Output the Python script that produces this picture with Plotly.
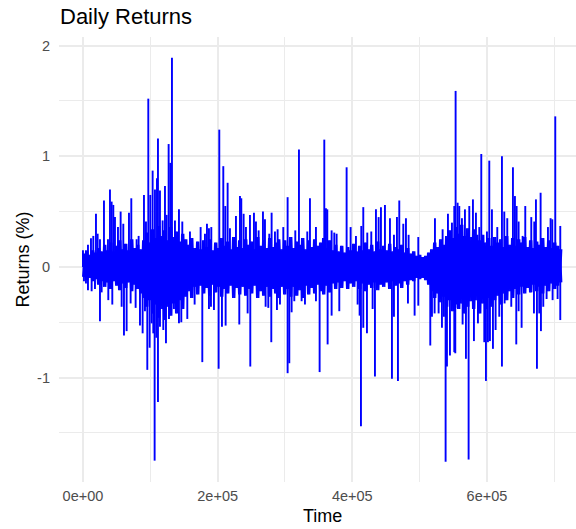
import plotly.graph_objects as go

TIME_STEP = 495  # one index unit of the lists below, in Time units

tick_x = [0, 200000, 400000, 600000]
tick_x_text = ["0e+00", "2e+05", "4e+05", "6e+05"]
tick_y = [-1, 0, 1, 2]
tick_y_text = ["-1", "0", "1", "2"]

upper_idx = [0,9,15,24,31,39,44,51,63,75,
 81,86,91,96,105,113,121,138,145,161,
 167,183,189,196,202,209,216,222,225,231,
 239,246,251,257,262,267,276,288,298,321,
 353,366,372,378,385,409,421,427,434,441,
 459,471,475,482,489,501,513,519,527,540,
 546,559,566,576,584,601,614,637,648,673,
 681,699,724,729,733,746,754,761,791,803,
 819,835,841,853,865,879,887,894,906,921,
 933,942,949,961,969,977,1006,1056,1079,1095,
 1107,1114,1118,1124,1129,1137,1146,1159,1170,1179,
 1189,1195,1212,1219,1227,1243,1257,1264,1273,1290,
 1296,1301,1307,1319,1327,1345,1354,1359,1373,1395,
 1403,1408,1417,1432]
upper_ret = [.15,.15,.2,.26,.28,.48,.30,.25,.6,.25,
 .7,.59,.56,.45,.36,.5,.39,.49,.62,.25,
 .28,.65,.41,1.52,.65,.87,.7,.8,1.16,.69,
 .42,.73,.47,1.11,.94,1.89,.42,.52,.41,.32,
 .36,.3,.39,.35,.36,1.24,.91,.55,.76,.35,
 .46,.64,.62,.48,.36,.47,.49,.41,.33,.5,
 .43,.3,.49,.32,.34,.36,.63,.33,1.06,.32,
 .62,.36,1.15,.53,.52,.33,.31,.3,.9,.36,
 .28,.37,.54,.31,.32,.52,.45,.54,.56,.44,
 .29,.45,.6,.39,.44,.29,.27,.44,.34,.48,
 .4,.55,1.59,.58,.55,.44,.52,.55,.61,.49,
 .36,1.02,.32,.96,.52,.36,1.0,.5,.44,.9,
 .64,.55,.41,.28,.55,.45,.41,.61,.67,.36,
 .44,.43,1.36,.37]

lower_idx = [3,9,15,26,36,51,56,76,88,116,
 123,131,143,158,171,179,186,193,200,206,
 211,215,220,225,231,241,249,258,273,288,
 295,313,335,358,378,384,393,407,417,428,
 469,494,502,548,556,565,582,591,614,619,
 626,634,656,666,699,710,734,746,769,824,
 830,834,841,852,869,876,927,933,945,975,
 995,1006,1042,1047,1055,1067,1077,1083,1088,1092,
 1101,1114,1117,1124,1139,1149,1157,1173,1185,1204,
 1209,1215,1221,1230,1238,1249,1257,1265,1285,1300,
 1307,1316,1353,1362,1369,1374,1381,1391,1409,1424,
 1432]
lower_ret = [-.13,-.15,-.21,-.22,-.2,-.49,-.23,-.3,-.34,-.36,
 -.62,-.58,-.33,-.37,-.53,-.6,-.4,-.93,-.73,-.51,
 -.6,-1.75,-.64,-1.22,-.54,-.57,-.69,-.47,-.38,-.51,
 -.5,-.47,-.34,-.86,-.38,-.36,-.39,-.92,-.54,-.53,
 -.52,-.42,-.9,-.36,-.37,-.68,-.39,-.34,-.96,-.87,
 -.41,-.31,-.31,-.34,-.31,-.95,-.7,-.44,-.4,-.34,
 -.44,-1.44,-.55,-.6,-.38,-.99,-1.01,-.45,-1.03,-.33,
 -.44,-.35,-.71,-.45,-.42,-.42,-.55,-.45,-1.76,-.9,
 -.8,-.77,-.78,-.37,-.52,-.83,-1.74,-.67,-.51,-.68,
 -1.03,-.68,-.67,-.74,-.57,-.45,-.9,-.33,-.36,-.7,
 -.4,-.55,-.42,-.92,-.42,-.58,-.36,-.29,-.3,-.29,
 -.48]

# dense body of the series: one high/low pair for each block of 9 index units
body_high = [.12,.14,.11,.15,.13,.17,.14,.2,.15,.22,
 .14,.19,.24,.16,.21,.15,.25,.17,.2,.16,
 .24,.31,.22,.34,.26,.37,.28,.33,.24,.36,
 .27,.32,.23,.3,.25,.2,.26,.17,.23,.16,
 .24,.18,.25,.15,.22,.17,.26,.19,.23,.16,
 .27,.18,.24,.17,.25,.2,.23,.16,.27,.19,
 .24,.17,.26,.18,.22,.25,.16,.24,.19,.27,
 .17,.23,.2,.26,.16,.24,.18,.25,.19,.22,
 .26,.17,.24,.15,.2,.14,.19,.13,.18,.15,
 .21,.14,.19,.15,.22,.16,.2,.14,.23,.16,
 .19,.15,.21,.14,.18,.16,.2,.13,.17,.12,
 .14,.1,.11,.09,.1,.13,.16,.22,.18,.25,
 .2,.28,.33,.26,.36,.3,.38,.28,.35,.27,
 .34,.29,.24,.29,.22,.26,.19,.27,.22,.25,
 .18,.28,.2,.26,.19,.25,.22,.27,.18,.24,
 .17,.23,.2,.26,.18,.24,.17,.22,.19,.16]
body_low = [-.09,-.12,-.1,-.13,-.11,-.16,-.13,-.18,-.14,-.2,
 -.13,-.17,-.21,-.15,-.19,-.14,-.22,-.16,-.2,-.24,
 -.28,-.36,-.3,-.42,-.34,-.46,-.38,-.48,-.36,-.44,
 -.33,-.42,-.3,-.38,-.27,-.22,-.28,-.18,-.25,-.17,
 -.24,-.19,-.26,-.16,-.23,-.18,-.27,-.2,-.24,-.17,
 -.28,-.19,-.25,-.18,-.26,-.2,-.24,-.17,-.28,-.22,
 -.26,-.18,-.27,-.2,-.24,-.28,-.18,-.25,-.2,-.27,
 -.18,-.26,-.21,-.28,-.17,-.25,-.19,-.24,-.16,-.22,
 -.25,-.17,-.23,-.15,-.2,-.14,-.19,-.13,-.2,-.15,
 -.18,-.13,-.2,-.15,-.22,-.16,-.19,-.14,-.21,-.16,
 -.18,-.14,-.2,-.13,-.17,-.15,-.19,-.13,-.16,-.12,
 -.13,-.1,-.11,-.1,-.12,-.16,-.22,-.28,-.24,-.32,
 -.27,-.36,-.3,-.4,-.34,-.38,-.33,-.42,-.36,-.31,
 -.38,-.3,-.42,-.33,-.38,-.28,-.36,-.3,-.26,-.34,
 -.24,-.3,-.22,-.28,-.2,-.25,-.18,-.24,-.19,-.23,
 -.16,-.22,-.18,-.24,-.17,-.22,-.15,-.2,-.17,-.14]

assert len(upper_idx) == len(upper_ret)
assert len(lower_idx) == len(lower_ret)
assert len(body_high) == len(body_low)
BODY_BLOCK = 9

body_t, body_r, body2_r = [], [], []
for i, (hi, lo) in enumerate(zip(body_high, body_low)):
    body_t += [i * BODY_BLOCK * TIME_STEP, (i + 0.5) * BODY_BLOCK * TIME_STEP]
    body_r += [hi, lo]
    body2_r += [lo, hi]

spike_t, spike_r = [], []
for i, r in zip(upper_idx + lower_idx, upper_ret + lower_ret):
    spike_t += [i * TIME_STEP, i * TIME_STEP, None]
    spike_r += [0, r, None]

BLUE = "#0000FF"
fig = go.Figure()
for ys in (body_r, body2_r):
    fig.add_trace(go.Scatter(x=body_t, y=ys, mode="lines", line=dict(color=BLUE, width=1.9), hoverinfo="skip"))
fig.add_trace(go.Scatter(x=spike_t, y=spike_r, mode="lines", line=dict(color=BLUE, width=1.9), hoverinfo="skip"))

FONT = "Liberation Sans"
GRID = "#EBEBEB"
fig.update_layout(
    width=576, height=529, showlegend=False,
    paper_bgcolor="white", plot_bgcolor="white",
    margin=dict(l=59, r=0, t=37, b=47),
    font=dict(family=FONT),
    title=dict(text="Daily Returns", x=60/576, xanchor="left", y=1-16/529, yanchor="middle",
               font=dict(size=22, color="black", family=FONT)),
    xaxis=dict(range=[-35600, 732200], tickmode="array", tickvals=tick_x, ticktext=tick_x_text,
               showgrid=True, gridcolor=GRID, gridwidth=1.6, zeroline=False, showline=False, ticks="",
               tickfont=dict(size=14.5, color="#4D4D4D"), ticklabelstandoff=3,
               minor=dict(dtick=100000, tick0=0, showgrid=True, gridcolor=GRID, gridwidth=1.0, ticks="")),
    yaxis=dict(range=[-1.943, 2.077], tickmode="array", tickvals=tick_y, ticktext=tick_y_text,
               showgrid=True, gridcolor=GRID, gridwidth=1.6, zeroline=False, showline=False, ticks="",
               tickfont=dict(size=14.5, color="#4D4D4D"), ticklabelstandoff=8,
               minor=dict(dtick=0.5, tick0=0, showgrid=True, gridcolor=GRID, gridwidth=1.0, ticks="")),
    annotations=[
        dict(text="Time", xref="paper", yref="paper", x=(322-59)/517, y=(482-516)/445,
             xanchor="center", yanchor="middle", showarrow=False, font=dict(size=18, color="black")),
        dict(text="Returns (%)", xref="paper", yref="paper", x=(22-59)/517, y=0.5, textangle=-90,
             xanchor="center", yanchor="middle", showarrow=False, font=dict(size=18, color="black")),
    ],
)
fig.write_html("out.html", config={"displayModeBar": False},
               post_script="document.body.style.margin='0';window.dispatchEvent(new Event('resize'));")
